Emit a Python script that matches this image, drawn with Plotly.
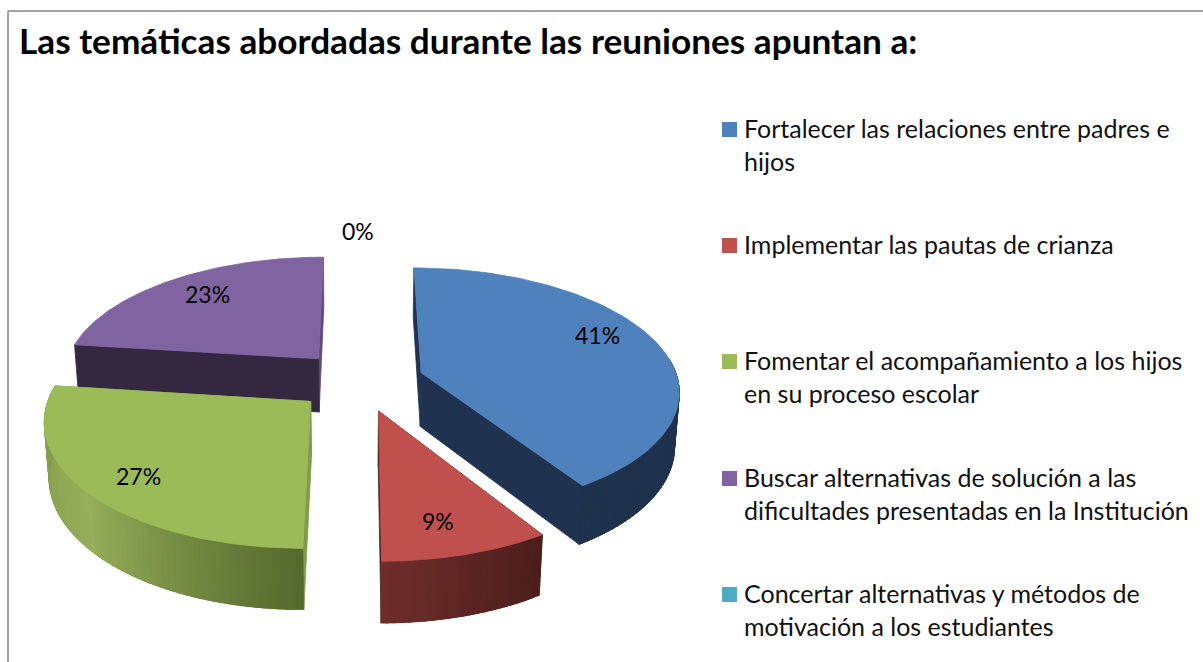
import math
import plotly.graph_objects as go

TITLE = "Las temáticas abordadas durante las reuniones apuntan a:"
CATEGORIES = [
    "Fortalecer las relaciones entre padres e<br>hijos",
    "Implementar las pautas de crianza",
    "Fomentar el acompañamiento a los hijos<br>en su proceso escolar",
    "Buscar alternativas de solución a las<br>dificultades presentadas en la Institución",
    "Concertar alternativas y métodos de<br>motivación a los estudiantes",
]
VALUES = [41, 9, 27, 23, 0]
TOP_COLORS = ["#4f81bd", "#c0504d", "#9bbb59", "#8064a2", "#4bacc6"]
START_FACE = ["#1f3350", "#4e1f1d", "#7f9c48", "#33283f", "#2f7f93"]
END_FACE = ["#1f3350", "#4e1f1d", "#7f9c48", "#5f4a7c", "#2f7f93"]
# wall shading from the arc's start to its end
WALL_STOPS = [
    [(30, 50, 78), (30, 50, 78)],
    [(75, 30, 28), (112, 46, 43)],
    [(85, 105, 45), (150, 175, 90), (128, 152, 72)],
    [(51, 40, 63), (51, 40, 63)],
    [(47, 127, 147), (47, 127, 147)],
]
LABEL_POS = [(597, 335), (438, 521), (138, 476), (207, 294), (358, 231)]
LEGEND_Y = [129.5, 245.5, 361.5, 478.5, 594.5]

# projection of the tilted pie onto the page
CX, CY, A, B, H, P, Q, EXPLODE = 360, 381, 257, 121, 55, 0.135, 0.015, 0.25
FONT = "Lato"


def project(u, v, z):
    s = 1 / (1 - P * v + Q * z)
    return CX + A * u * s, CY + (B * v + H * z) * s


def mix(stops, t):
    t = max(0, min(1, t)) * (len(stops) - 1)
    i = min(int(t), len(stops) - 2)
    f = t - i
    c = [stops[i][k] + (stops[i + 1][k] - stops[i][k]) * f for k in range(3)]
    return "rgb(%d,%d,%d)" % tuple(c)


def poly(points, color):
    xs = [p[0] for p in points] + [points[0][0]]
    ys = [p[1] for p in points] + [points[0][1]]
    return go.Scatter(x=xs, y=ys, mode="lines", fill="toself", fillcolor=color,
                      line=dict(color=color, width=0.8), hoverinfo="skip", showlegend=False)


total = sum(VALUES)
wedges = []
cum = 0
for i, val in enumerate(VALUES):
    t0 = cum / total * 2 * math.pi
    cum += val
    t1 = cum / total * 2 * math.pi
    wedges.append((i, t0, t1))

fig = go.Figure()
for i, t0, t1 in [wedges[3], wedges[0], wedges[2], wedges[1]]:
    mid = (t0 + t1) / 2
    eu, ev = EXPLODE * math.sin(mid), -EXPLODE * math.cos(mid)

    def rim(t, z):
        return project(eu + math.sin(t), ev - math.cos(t), z)

    apex0, apex1 = project(eu, ev, 0), project(eu, ev, 1)
    faces = [(t0, START_FACE[i]), (t1, END_FACE[i])]
    faces.sort(key=lambda f: -math.cos(f[0]))   # farther cut face first
    for t, color in faces:
        fig.add_trace(poly([apex0, rim(t, 0), rim(t, 1), apex1], color))
    n = max(10, int((t1 - t0) * 40))
    step = (t1 - t0) / n
    for k in range(n):
        a0 = t0 + step * k
        a1 = min(t1, a0 + 2.5 * step)       # overlap the next strip to hide seams
        if math.cos(a0 + step / 2) > 0.12:  # the far side of the wall is hidden
            continue
        m = 12
        arc = [a0 + (a1 - a0) * j / m for j in range(m + 1)]
        pts = [rim(a, 0) for a in arc] + [rim(a, 1) for a in reversed(arc)]
        fig.add_trace(poly(pts, mix(WALL_STOPS[i], (k + 0.5) / n)))
    top = [apex0] + [rim(t0 + (t1 - t0) * k / 90, 0) for k in range(91)]
    fig.add_trace(poly(top, TOP_COLORS[i]))

# legend keys
for color, y in zip(TOP_COLORS, LEGEND_Y):
    fig.add_trace(go.Scatter(x=[729.5], y=[y], mode="markers", showlegend=False, hoverinfo="skip",
                             marker=dict(symbol="square", size=15, color=color, line=dict(width=0))))

ann = [dict(x=17, y=39.5, text="<b>%s</b>" % TITLE, showarrow=False, xanchor="left", yanchor="middle",
            font=dict(family=FONT, size=35.2, color="#000000"))]
for val, (x, y) in zip(VALUES, LABEL_POS):
    ann.append(dict(x=x, y=y, text="%d%%" % val, showarrow=False, xanchor="center", yanchor="middle",
                    font=dict(family=FONT, size=23, color="#000000")))
for cat, y in zip(CATEGORIES, LEGEND_Y):
    ann.append(dict(x=742, y=y - 19, text=cat, showarrow=False, xanchor="left", yanchor="top", align="left",
                    font=dict(family=FONT, size=25, color="#111111")))

fig.update_layout(
    width=1203, height=662, margin=dict(l=0, r=0, t=0, b=0),
    paper_bgcolor="#ffffff", plot_bgcolor="#ffffff", showlegend=False,
    xaxis=dict(range=[0, 1203], visible=False, fixedrange=True),
    yaxis=dict(range=[662, 0], visible=False, fixedrange=True),
    annotations=ann,
    shapes=[
        dict(type="line", x0=8, x1=8, y0=11, y1=662, line=dict(color="#868686", width=1.5)),
        dict(type="line", x0=8, x1=1203, y0=11, y1=11, line=dict(color="#868686", width=1.5)),
    ],
)
fig.write_html("out.html", config={"displayModeBar": False},
               post_script="document.body.style.margin='0';document.documentElement.style.overflow='hidden';")
